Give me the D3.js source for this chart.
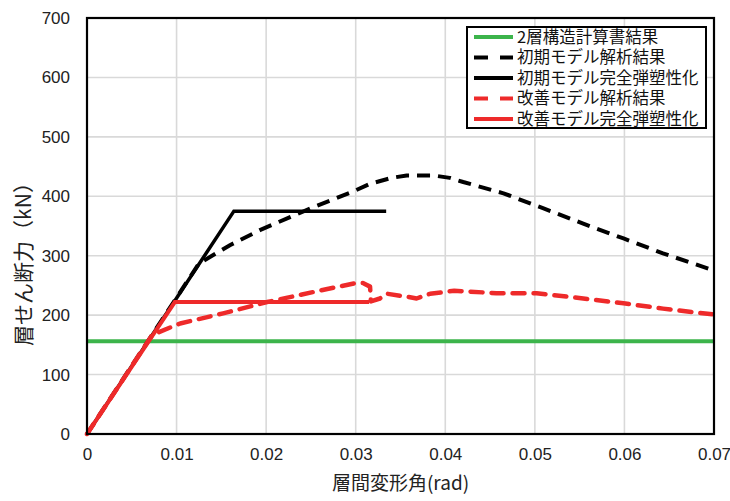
<!DOCTYPE html>
<html><head><meta charset="utf-8">
<script src="https://cdn.jsdelivr.net/npm/d3@7"></script>
<style>body{margin:0;background:#fff;} svg{display:block;}</style>
</head><body>
<script>
// ---- data ----
const xTicks = [0, 0.01, 0.02, 0.03, 0.04, 0.05, 0.06, 0.07];
const xTickLabels = ["0", "0.01", "0.02", "0.03", "0.04", "0.05", "0.06", "0.07"];
const yTicks = [0, 100, 200, 300, 400, 500, 600, 700];
const seriesNames = ["2層構造計算書結果", "初期モデル解析結果", "初期モデル完全弾塑性化", "改善モデル解析結果", "改善モデル完全弾塑性化"];

const greenX = [0, 0.07];
const greenY = [156, 156];

const initAnaX = [0, 0.0125, 0.0160, 0.0193, 0.0253, 0.0297, 0.0316, 0.0340, 0.0357, 0.0387, 0.0405, 0.0420, 0.0465, 0.0509, 0.0554, 0.0599, 0.0643, 0.0700];
const initAnaY = [0, 287, 318, 343, 382, 408, 421, 431, 435, 435, 431, 424, 405, 380, 354, 329, 304, 275];

const initBiX = [0, 0.0164, 0.0334];
const initBiY = [0, 375, 375];

const impAnaX = [0, 0.0073, 0.0104, 0.0152, 0.0201, 0.0253, 0.0300, 0.0308, 0.0316, 0.0317, 0.0327, 0.0335, 0.0357, 0.0368, 0.0383, 0.0410, 0.0457, 0.0502, 0.0554, 0.0599, 0.0643, 0.0700];
const impAnaY = [0, 167, 186, 203, 222, 239, 254, 254, 248, 223, 228, 236, 231, 228, 236, 241, 237, 237, 228, 220, 211, 201];

const impBiX = [0, 0.0098, 0.0315];
const impBiY = [0, 222, 222];

// ---- layout ----
const W = 730, H = 501;
const L = 87, R = 714, T = 18, B = 434;
const svg = d3.select("body").append("svg").attr("width", W).attr("height", H);

const x = d3.scaleLinear().domain([0, 0.07]).range([L, R]);
const y = d3.scaleLinear().domain([0, 700]).range([B, T]);

const numFont = "'Liberation Sans', Arial, sans-serif";
const jpFont = "'Noto Sans CJK JP', sans-serif";

// grid
svg.append("g").selectAll("line.v").data(xTicks.slice(1, -1)).join("line")
  .attr("x1", d => x(d)).attr("x2", d => x(d)).attr("y1", T).attr("y2", B)
  .attr("stroke", "#d9d9d9").attr("stroke-width", 1.6);
svg.append("g").selectAll("line.h").data(yTicks.slice(1, -1)).join("line")
  .attr("x1", L).attr("x2", R).attr("y1", d => y(d)).attr("y2", d => y(d))
  .attr("stroke", "#d9d9d9").attr("stroke-width", 1.6);

// axes labels via d3 axis (ticks hidden)
const xAxis = d3.axisBottom(x).tickValues(xTicks).tickFormat((d, i) => xTickLabels[i]).tickSize(0).tickPadding(14);
const gx = svg.append("g").attr("transform", `translate(0,${B})`).call(xAxis);
gx.select(".domain").remove();
gx.selectAll("text").attr("font-family", numFont).attr("font-size", 17).attr("fill", "#222");

const yAxis = d3.axisLeft(y).tickValues(yTicks).tickFormat(d3.format("d")).tickSize(0).tickPadding(17);
const gy = svg.append("g").attr("transform", `translate(${L},0)`).call(yAxis);
gy.select(".domain").remove();
gy.selectAll("text").attr("font-family", numFont).attr("font-size", 17).attr("fill", "#222");

// axis titles
svg.append("text").attr("x", (L + R) / 2).attr("y", 490).attr("text-anchor", "middle")
  .attr("font-family", jpFont).attr("font-size", 19).attr("fill", "#222").text("層間変形角(rad)");
svg.append("text").attr("transform", `translate(31,259) rotate(-90)`).attr("text-anchor", "middle")
  .attr("font-family", jpFont).attr("font-size", 21).attr("fill", "#222").text("層せん断力（kN）");

// lines
const line = d3.line().x(d => x(d[0])).y(d => y(d[1]));
const zip = (a, b) => a.map((v, i) => [v, b[i]]);
const plot = svg.append("g");

plot.append("path").datum(zip(greenX, greenY)).attr("d", line)
  .attr("fill", "none").attr("stroke", "#3cb44b").attr("stroke-width", 4);
plot.append("path").datum(zip(initAnaX, initAnaY)).attr("d", line)
  .attr("fill", "none").attr("stroke", "#000").attr("stroke-width", 4)
  .attr("stroke-dasharray", "13,8").attr("stroke-linejoin", "round");
plot.append("path").datum(zip(initBiX, initBiY)).attr("d", line)
  .attr("fill", "none").attr("stroke", "#000").attr("stroke-width", 3.5);
plot.append("path").datum(zip(impAnaX, impAnaY)).attr("d", line)
  .attr("fill", "none").attr("stroke", "#ee2a2a").attr("stroke-width", 4.5)
  .attr("stroke-dasharray", "12,9").attr("stroke-linecap", "round").attr("stroke-linejoin", "round");
plot.append("path").datum(zip(impBiX, impBiY)).attr("d", line)
  .attr("fill", "none").attr("stroke", "#ee2a2a").attr("stroke-width", 4);

// frame
svg.append("rect").attr("x", L).attr("y", T).attr("width", R - L).attr("height", B - T)
  .attr("fill", "none").attr("stroke", "#000").attr("stroke-width", 2.2);

// legend
const lg = svg.append("g");
lg.append("rect").attr("x", 467).attr("y", 27).attr("width", 239).attr("height", 101)
  .attr("fill", "#fff").attr("stroke", "#000").attr("stroke-width", 2);
const legStyles = [
  {c: "#3cb44b", dash: null},
  {c: "#000", dash: "14,12"},
  {c: "#000", dash: null},
  {c: "#ee2a2a", dash: "14,12"},
  {c: "#ee2a2a", dash: null}
];
seriesNames.forEach((n, i) => {
  const yy = 37 + i * 20.5;
  lg.append("line").attr("x1", 474).attr("x2", 513).attr("y1", yy).attr("y2", yy)
    .attr("stroke", legStyles[i].c).attr("stroke-width", 4)
    .attr("stroke-dasharray", legStyles[i].dash);
  lg.append("text").attr("x", 517).attr("y", yy).attr("dy", "0.36em")
    .attr("font-family", jpFont).attr("font-size", 16.5).attr("fill", "#111").text(n);
});
</script>
</body></html>
